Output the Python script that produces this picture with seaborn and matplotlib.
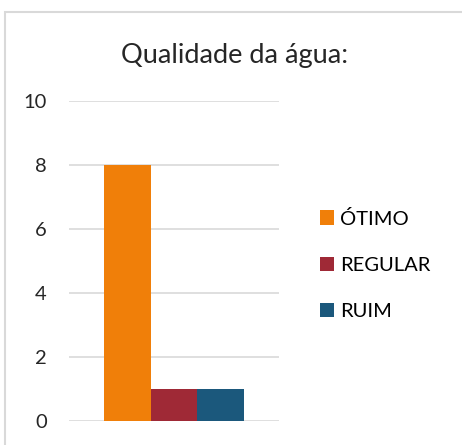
import matplotlib
matplotlib.use("Agg")
import matplotlib.pyplot as plt
import seaborn as sns
import pandas as pd
from matplotlib.patches import Rectangle

# data
categories = ["ÓTIMO", "REGULAR", "RUIM"]
values = [8, 1, 1]
colors = ["#F07F09", "#9F2936", "#1B587C"]
yticks = [0, 2, 4, 6, 8, 10]

df = pd.DataFrame({"grupo": [""] * 3, "qualidade": categories, "valor": values})

sns.set_style("white")
plt.rcParams["font.family"] = ["Lato", "DejaVu Sans"]

fig = plt.figure(figsize=(4.62, 4.45), dpi=100)
ax = fig.add_axes([69 / 462, 1 - 420.7 / 445, (279 - 69) / 462, 320 / 445])

sns.barplot(data=df, x="grupo", y="valor", hue="qualidade", hue_order=categories,
            palette=colors, width=0.67, saturation=1, linewidth=0, ax=ax, legend=True)

ax.set_xlim(-0.5, 0.5)
ax.set_ylim(0, 10)
ax.set_yticks(yticks)
ax.set_yticklabels([str(t) for t in yticks], fontsize=14.5)
ax.tick_params(axis="y", length=0, pad=16)
ax.set_xticks([])
ax.set_xlabel("")
ax.set_ylabel("")
ax.yaxis.grid(True, color="#d9d9d9", linewidth=1.2)
ax.set_axisbelow(True)
for s in ax.spines.values():
    s.set_visible(False)

leg = ax.legend(loc="center left", bbox_to_anchor=((312 - 69) / (279 - 69), 0.487),
                frameon=False, fontsize=14.5, handlelength=0.7, handleheight=0.7,
                handletextpad=0.3, labelspacing=1.45, borderaxespad=0)
for t in leg.get_texts():
    t.set_color("#000000")

fig.text(235 / 462, 1 - 55 / 445, "Qualidade da água:", ha="center", va="center",
         fontsize=19.5)

# light border around the chart area
fig.patches.append(Rectangle((5 / 462, -0.1), 1.2, 1 - 12 / 445 + 0.1,
                             transform=fig.transFigure, fill=False,
                             edgecolor="#d9d9d9", linewidth=1.5))

fig.savefig("out.png", dpi=100)
